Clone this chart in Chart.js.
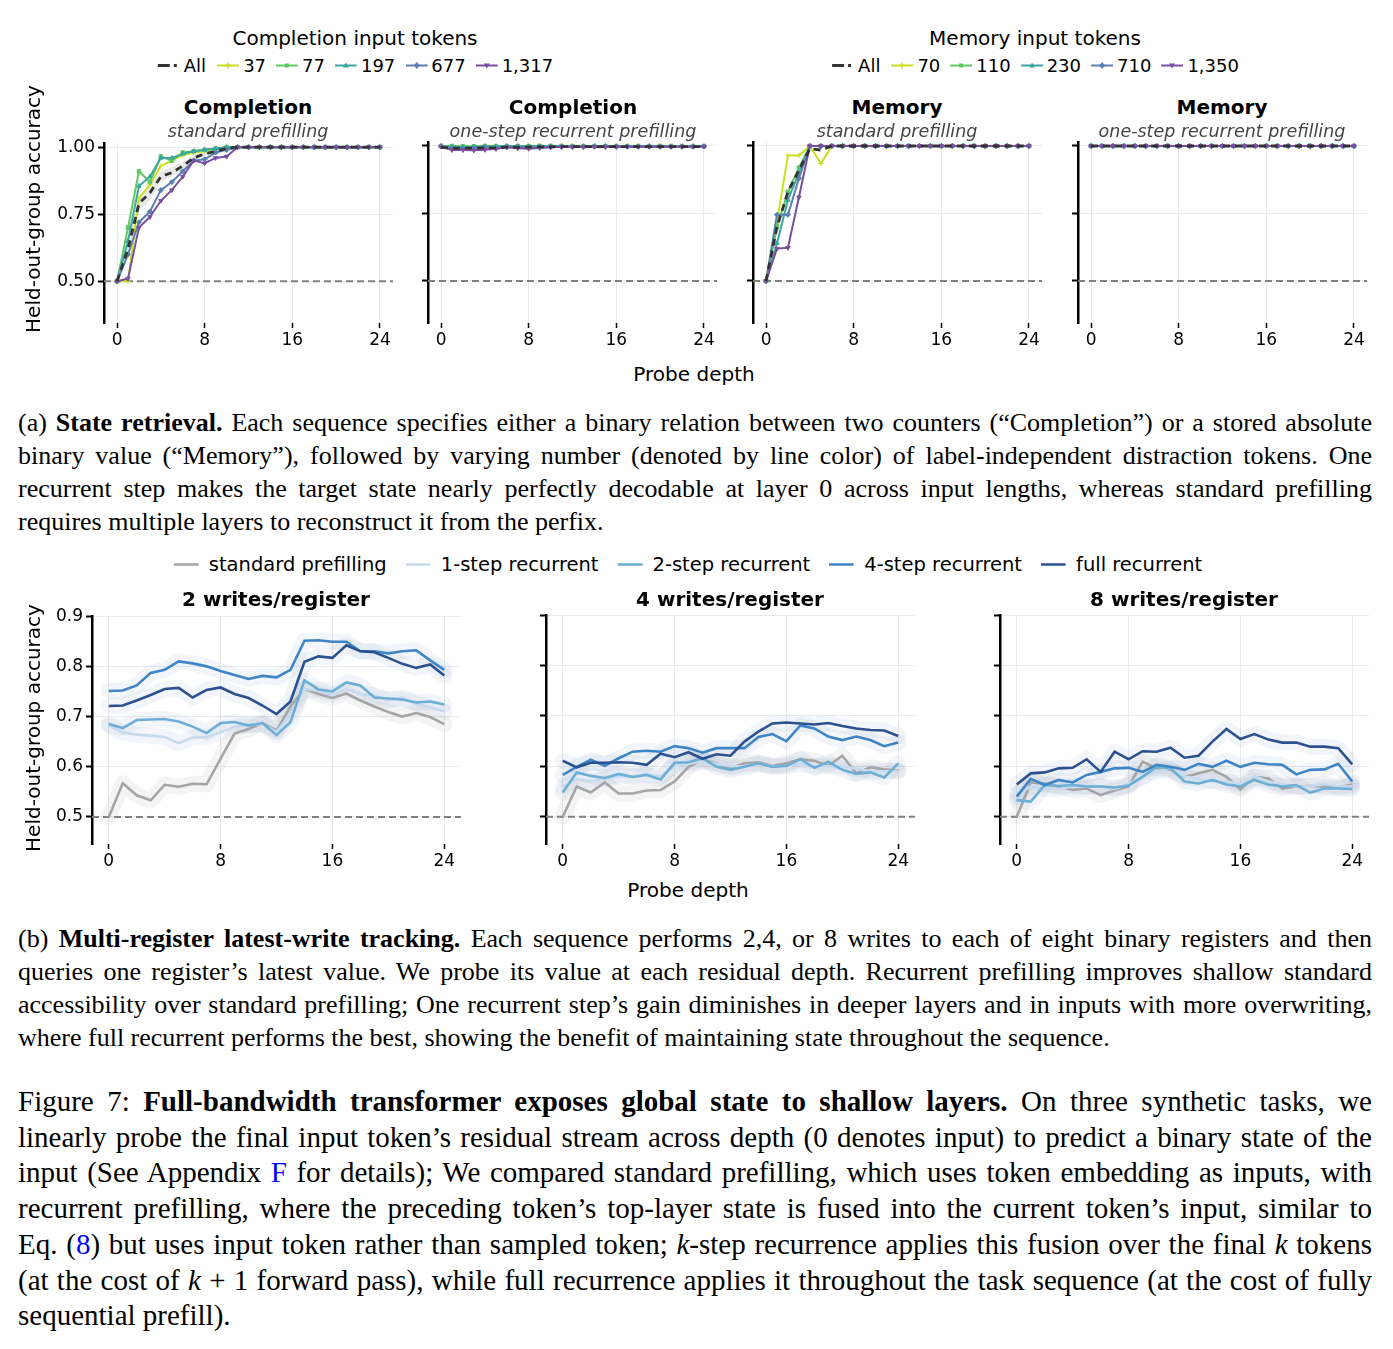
<!DOCTYPE html>
<html>
<head>
<meta charset="utf-8">
<script src="https://cdn.jsdelivr.net/npm/chart.js@4.4.1/dist/chart.umd.min.js"></script>
<style>
  body { margin: 0; background: #fff; width: 1393px; height: 1349px; position: relative; overflow: hidden; font-family: "DejaVu Sans", sans-serif; color: #000; }
  canvas { position: absolute; z-index: 0; }
  .t { position: absolute; white-space: nowrap; transform: translate(-50%, -50%); z-index: 1; }
  .ttl { font-weight: bold; font-size: 20px; }
  .sub { font-style: italic; font-size: 17.5px; color: #444; }
  .lab { font-size: 20px; }
  .leg { position: absolute; display: flex; align-items: center; white-space: nowrap; transform: translate(-50%, -50%); z-index: 1; }
  .leg svg { display: block; }
  .cap { position: absolute; left: 18px; width: 1354px; font-family: "Liberation Serif", serif; z-index: 1; }
  .cap div { text-align: justify; text-align-last: justify; white-space: nowrap; }
  .cap div.last { text-align-last: left; }
  .blue { color: #0000ff; }
</style>
</head>
<body>

<div class="t lab" style="left:355px;top:38px">Completion input tokens</div>
<div class="leg" id="legComp" style="left:355px;top:65px"></div>
<div class="t lab" style="left:1035px;top:38px">Memory input tokens</div>
<div class="leg" id="legMem" style="left:1035px;top:65px"></div>

<div class="t ttl" style="left:248px;top:107px">Completion</div>
<div class="t sub" style="left:248px;top:131px">standard prefilling</div>
<div class="t ttl" style="left:573px;top:107px">Completion</div>
<div class="t sub" style="left:573px;top:131px">one-step recurrent prefilling</div>
<div class="t ttl" style="left:897px;top:107px">Memory</div>
<div class="t sub" style="left:897px;top:131px">standard prefilling</div>
<div class="t ttl" style="left:1222px;top:107px">Memory</div>
<div class="t sub" style="left:1222px;top:131px">one-step recurrent prefilling</div>

<div class="t lab" style="left:33px;top:209px;transform:translate(-50%,-50%) rotate(-90deg)">Held-out-group accuracy</div>
<div class="t lab" style="left:694px;top:374px">Probe depth</div>

<div class="cap" style="top:406px;font-size:26px;line-height:33px">
  <div>(a) <b>State retrieval.</b> Each sequence specifies either a binary relation between two counters (“Completion”) or a stored absolute</div>
  <div>binary value (“Memory”), followed by varying number (denoted by line color) of label-independent distraction tokens. One</div>
  <div>recurrent step makes the target state nearly perfectly decodable at layer 0 across input lengths, whereas standard prefilling</div>
  <div class="last">requires multiple layers to reconstruct it from the perfix.</div>
</div>

<div class="leg" id="legBot" style="left:688px;top:564px"></div>
<div class="t ttl" style="left:276px;top:599px">2 writes/register</div>
<div class="t ttl" style="left:730px;top:599px">4 writes/register</div>
<div class="t ttl" style="left:1184px;top:599px">8 writes/register</div>
<div class="t lab" style="left:33px;top:728px;transform:translate(-50%,-50%) rotate(-90deg)">Held-out-group accuracy</div>
<div class="t lab" style="left:688px;top:890px">Probe depth</div>

<div class="cap" style="top:922px;font-size:26px;line-height:33px">
  <div>(b) <b>Multi-register latest-write tracking.</b> Each sequence performs 2,4, or 8 writes to each of eight binary registers and then</div>
  <div>queries one register’s latest value. We probe its value at each residual depth. Recurrent prefilling improves shallow standard</div>
  <div>accessibility over standard prefilling; One recurrent step’s gain diminishes in deeper layers and in inputs with more overwriting,</div>
  <div class="last">where full recurrent performs the best, showing the benefit of maintaining state throughout the sequence.</div>
</div>

<div class="cap" style="top:1084px;font-size:29px;line-height:35.7px">
  <div>Figure 7: <b>Full-bandwidth transformer exposes global state to shallow layers.</b> On three synthetic tasks, we</div>
  <div>linearly probe the final input token’s residual stream across depth (0 denotes input) to predict a binary state of the</div>
  <div>input (See Appendix <span class="blue">F</span> for details); We compared standard prefilling, which uses token embedding as inputs, with</div>
  <div>recurrent prefilling, where the preceding token’s top-layer state is fused into the current token’s input, similar to</div>
  <div>Eq. (<span class="blue">8</span>) but uses input token rather than sampled token; <i>k</i>-step recurrence applies this fusion over the final <i>k</i> tokens</div>
  <div>(at the cost of <i>k</i> + 1 forward pass), while full recurrence applies it throughout the task sequence (at the cost of fully</div>
  <div class="last">sequential prefill).</div>
</div>

<script>
// probe depths and axis ticks
const DEPTHS = [0, 1, 2, 3, 4, 5, 6, 7, 8, 9, 10, 11, 12, 13, 14, 15, 16, 17, 18, 19, 20, 21, 22, 23, 24];
const X_TICKS = [0, 8, 16, 24];
const Y_TICKS_TOP = [0.5, 0.75, 1.0];
const Y_TICKS_BOT = [0.5, 0.6, 0.7, 0.8, 0.9];
const CHANCE = 0.5;

const COMP_TOKENS = ["37", "77", "197", "677", "1,317"];
const MEM_TOKENS = ["70", "110", "230", "710", "1,350"];
const METHODS = ["standard prefilling", "1-step recurrent", "2-step recurrent", "4-step recurrent", "full recurrent"];

// Completion, standard prefilling
const C_STD_ALL = [0.50, 0.62, 0.79, 0.83, 0.89, 0.905, 0.93, 0.96, 0.975, 0.985, 0.995, 1.0, 1.0, 1.0, 1.0, 1.0, 1.0, 1.0, 1.0, 1.0, 1.0, 1.0, 1.0, 1.0, 1.0];
const C_STD_ALL_LO = [0.50, 0.59, 0.76, 0.80, 0.87, 0.89, 0.915, 0.95, 0.97, 0.98, 0.99, 0.998, 1.0, 1.0, 1.0, 1.0, 1.0, 1.0, 1.0, 1.0, 1.0, 1.0, 1.0, 1.0, 1.0];
const C_STD_ALL_HI = [0.50, 0.65, 0.82, 0.86, 0.91, 0.925, 0.945, 0.97, 0.985, 0.99, 1.0, 1.0, 1.0, 1.0, 1.0, 1.0, 1.0, 1.0, 1.0, 1.0, 1.0, 1.0, 1.0, 1.0, 1.0];
const C_STD_37 = [0.50, 0.50, 0.81, 0.86, 0.93, 0.95, 0.97, 0.98, 0.985, 0.995, 1.0, 1.0, 1.0, 1.0, 1.0, 1.0, 1.0, 1.0, 1.0, 1.0, 1.0, 1.0, 1.0, 1.0, 1.0];
const C_STD_77 = [0.50, 0.70, 0.91, 0.87, 0.965, 0.95, 0.98, 0.985, 0.99, 0.995, 1.0, 1.0, 1.0, 1.0, 1.0, 1.0, 1.0, 1.0, 1.0, 1.0, 1.0, 1.0, 1.0, 1.0, 1.0];
const C_STD_197 = [0.50, 0.65, 0.855, 0.89, 0.96, 0.96, 0.975, 0.985, 0.99, 0.995, 1.0, 1.0, 1.0, 1.0, 1.0, 1.0, 1.0, 1.0, 1.0, 1.0, 1.0, 1.0, 1.0, 1.0, 1.0];
const C_STD_677 = [0.50, 0.60, 0.72, 0.76, 0.84, 0.87, 0.91, 0.95, 0.955, 0.98, 0.99, 1.0, 1.0, 1.0, 1.0, 1.0, 1.0, 1.0, 1.0, 1.0, 1.0, 1.0, 1.0, 1.0, 1.0];
const C_STD_1317 = [0.50, 0.51, 0.70, 0.74, 0.80, 0.84, 0.89, 0.95, 0.94, 0.96, 0.965, 1.0, 1.0, 1.0, 1.0, 1.0, 1.0, 1.0, 1.0, 1.0, 1.0, 1.0, 1.0, 1.0, 1.0];

// Completion, one-step recurrent prefilling
const C_ONE_ALL = [0.995, 0.992, 0.992, 0.992, 0.993, 0.994, 0.996, 0.995, 0.996, 0.997, 0.997, 0.998, 0.998, 0.998, 0.998, 0.998, 0.998, 0.998, 0.998, 0.998, 0.998, 0.998, 0.998, 0.998, 0.998];
const C_ONE_37 = [1.0, 0.998, 0.997, 0.998, 0.999, 1.0, 1.0, 1.0, 1.0, 1.0, 1.0, 1.0, 1.0, 1.0, 1.0, 1.0, 1.0, 1.0, 1.0, 1.0, 1.0, 1.0, 1.0, 1.0, 1.0];
const C_ONE_77 = [1.0, 1.0, 0.999, 0.999, 1.0, 1.0, 1.0, 1.0, 1.0, 1.0, 1.0, 1.0, 1.0, 1.0, 1.0, 1.0, 1.0, 1.0, 1.0, 1.0, 1.0, 1.0, 1.0, 1.0, 1.0];
const C_ONE_197 = [1.0, 0.997, 0.996, 0.997, 0.998, 0.998, 0.999, 0.999, 0.998, 0.999, 0.999, 0.999, 0.998, 0.998, 0.999, 0.999, 0.998, 0.998, 0.998, 0.999, 0.998, 0.998, 0.998, 0.997, 0.998];
const C_ONE_677 = [0.998, 0.99, 0.99, 0.993, 0.995, 0.99, 0.995, 0.997, 0.994, 0.995, 0.996, 0.997, 0.997, 0.997, 0.998, 0.998, 0.998, 0.998, 0.998, 0.998, 0.998, 0.998, 0.998, 0.998, 0.998];
const C_ONE_1317 = [0.998, 0.985, 0.985, 0.984, 0.986, 0.99, 0.995, 0.992, 0.99, 0.993, 0.995, 0.996, 0.996, 0.997, 0.997, 0.996, 0.997, 0.997, 0.997, 0.997, 0.997, 0.997, 0.997, 0.997, 0.998];

// Memory, standard prefilling
const M_STD_ALL = [0.50, 0.70, 0.83, 0.91, 0.99, 0.985, 1.0, 1.0, 1.0, 1.0, 1.0, 1.0, 1.0, 1.0, 1.0, 1.0, 1.0, 1.0, 1.0, 1.0, 1.0, 1.0, 1.0, 1.0, 1.0];
const M_STD_70 = [0.50, 0.72, 0.965, 0.965, 1.0, 0.935, 1.0, 1.0, 1.0, 1.0, 1.0, 1.0, 1.0, 1.0, 1.0, 1.0, 1.0, 1.0, 1.0, 1.0, 1.0, 1.0, 1.0, 1.0, 1.0];
const M_STD_110 = [0.50, 0.70, 0.83, 0.92, 1.0, 1.0, 1.0, 1.0, 1.0, 1.0, 1.0, 1.0, 1.0, 1.0, 1.0, 1.0, 1.0, 1.0, 1.0, 1.0, 1.0, 1.0, 1.0, 1.0, 1.0];
const M_STD_230 = [0.50, 0.64, 0.80, 0.90, 1.0, 1.0, 1.0, 1.0, 1.0, 1.0, 1.0, 1.0, 1.0, 1.0, 1.0, 1.0, 1.0, 1.0, 1.0, 1.0, 1.0, 1.0, 1.0, 1.0, 1.0];
const M_STD_710 = [0.50, 0.745, 0.745, 0.88, 1.0, 1.0, 1.0, 1.0, 1.0, 1.0, 1.0, 1.0, 1.0, 1.0, 1.0, 1.0, 1.0, 1.0, 1.0, 1.0, 1.0, 1.0, 1.0, 1.0, 1.0];
const M_STD_1350 = [0.50, 0.62, 0.623, 0.81, 1.0, 1.0, 1.0, 1.0, 1.0, 1.0, 1.0, 1.0, 1.0, 1.0, 1.0, 1.0, 1.0, 1.0, 1.0, 1.0, 1.0, 1.0, 1.0, 1.0, 1.0];

// Memory, one-step recurrent prefilling
const M_ONE_ALL = [1.0, 1.0, 1.0, 1.0, 1.0, 1.0, 1.0, 1.0, 1.0, 1.0, 1.0, 1.0, 1.0, 1.0, 1.0, 1.0, 1.0, 1.0, 1.0, 1.0, 1.0, 1.0, 1.0, 1.0, 1.0];
const M_ONE_70 = [1.0, 1.0, 1.0, 1.0, 1.0, 1.0, 1.0, 1.0, 1.0, 1.0, 1.0, 1.0, 1.0, 1.0, 1.0, 1.0, 1.0, 1.0, 1.0, 1.0, 1.0, 1.0, 1.0, 1.0, 1.0];
const M_ONE_110 = [1.0, 1.0, 1.0, 1.0, 1.0, 1.0, 1.0, 1.0, 1.0, 1.0, 1.0, 1.0, 1.0, 1.0, 1.0, 1.0, 1.0, 1.0, 1.0, 1.0, 1.0, 1.0, 1.0, 1.0, 1.0];
const M_ONE_230 = [1.0, 1.0, 1.0, 1.0, 1.0, 1.0, 1.0, 1.0, 1.0, 1.0, 1.0, 1.0, 1.0, 1.0, 1.0, 1.0, 1.0, 1.0, 1.0, 1.0, 1.0, 1.0, 1.0, 1.0, 1.0];
const M_ONE_710 = [1.0, 1.0, 1.0, 1.0, 1.0, 1.0, 1.0, 1.0, 1.0, 1.0, 1.0, 1.0, 1.0, 1.0, 1.0, 1.0, 1.0, 1.0, 1.0, 1.0, 1.0, 1.0, 1.0, 1.0, 1.0];
const M_ONE_1350 = [1.0, 1.0, 1.0, 1.0, 1.0, 1.0, 1.0, 1.0, 1.0, 1.0, 1.0, 1.0, 1.0, 1.0, 1.0, 1.0, 1.0, 1.0, 1.0, 1.0, 1.0, 1.0, 1.0, 1.0, 1.0];

// Multi-register tracking: 2 writes/register
const W2_STD = [0.500, 0.567, 0.543, 0.533, 0.564, 0.560, 0.566, 0.565, 0.616, 0.666, 0.675, 0.687, 0.672, 0.720, 0.755, 0.745, 0.737, 0.746, 0.732, 0.720, 0.709, 0.700, 0.707, 0.699, 0.685];
const W2_1 = [0.682, 0.668, 0.664, 0.662, 0.659, 0.647, 0.658, 0.659, 0.669, 0.679, 0.684, 0.685, 0.669, 0.705, 0.755, 0.752, 0.743, 0.755, 0.745, 0.742, 0.732, 0.738, 0.725, 0.719, 0.710];
const W2_2 = [0.685, 0.677, 0.693, 0.694, 0.695, 0.690, 0.680, 0.667, 0.687, 0.689, 0.682, 0.687, 0.663, 0.689, 0.772, 0.754, 0.750, 0.768, 0.762, 0.738, 0.736, 0.734, 0.728, 0.730, 0.724];
const W2_4 = [0.751, 0.752, 0.762, 0.787, 0.793, 0.810, 0.806, 0.800, 0.791, 0.783, 0.775, 0.781, 0.778, 0.793, 0.851, 0.852, 0.849, 0.849, 0.830, 0.830, 0.826, 0.830, 0.832, 0.812, 0.793];
const W2_FULL = [0.721, 0.722, 0.732, 0.743, 0.755, 0.757, 0.738, 0.753, 0.758, 0.745, 0.737, 0.722, 0.705, 0.730, 0.809, 0.820, 0.817, 0.842, 0.830, 0.828, 0.817, 0.805, 0.797, 0.804, 0.782];

// 4 writes/register
const W4_STD = [0.500, 0.560, 0.548, 0.568, 0.546, 0.546, 0.552, 0.553, 0.570, 0.599, 0.613, 0.606, 0.596, 0.606, 0.608, 0.601, 0.606, 0.614, 0.611, 0.601, 0.621, 0.586, 0.598, 0.594, 0.591];
const W4_1 = [0.560, 0.575, 0.570, 0.575, 0.580, 0.580, 0.585, 0.580, 0.600, 0.605, 0.610, 0.605, 0.600, 0.600, 0.605, 0.600, 0.600, 0.605, 0.600, 0.600, 0.600, 0.595, 0.590, 0.590, 0.590];
const W4_2 = [0.548, 0.588, 0.581, 0.577, 0.585, 0.579, 0.583, 0.574, 0.607, 0.608, 0.616, 0.599, 0.593, 0.599, 0.606, 0.599, 0.601, 0.614, 0.597, 0.609, 0.593, 0.585, 0.588, 0.578, 0.606];
const W4_4 = [0.583, 0.599, 0.613, 0.601, 0.616, 0.629, 0.631, 0.629, 0.640, 0.636, 0.627, 0.636, 0.636, 0.636, 0.658, 0.664, 0.650, 0.681, 0.675, 0.659, 0.652, 0.659, 0.652, 0.640, 0.647];
const W4_FULL = [0.611, 0.598, 0.607, 0.607, 0.608, 0.607, 0.603, 0.625, 0.618, 0.628, 0.615, 0.624, 0.621, 0.649, 0.669, 0.685, 0.687, 0.685, 0.683, 0.686, 0.680, 0.675, 0.672, 0.671, 0.660];

// 8 writes/register
const W8_STD = [0.500, 0.568, 0.566, 0.560, 0.553, 0.556, 0.543, 0.552, 0.560, 0.609, 0.596, 0.593, 0.579, 0.586, 0.593, 0.579, 0.554, 0.579, 0.576, 0.556, 0.560, 0.561, 0.560, 0.558, 0.564];
const W8_1 = [0.545, 0.560, 0.555, 0.555, 0.560, 0.560, 0.560, 0.555, 0.565, 0.580, 0.590, 0.595, 0.580, 0.575, 0.570, 0.570, 0.565, 0.580, 0.570, 0.565, 0.560, 0.560, 0.565, 0.560, 0.560];
const W8_2 = [0.533, 0.530, 0.563, 0.561, 0.563, 0.560, 0.560, 0.558, 0.562, 0.579, 0.599, 0.596, 0.570, 0.566, 0.573, 0.564, 0.560, 0.573, 0.564, 0.560, 0.563, 0.548, 0.556, 0.556, 0.555];
const W8_4 = [0.540, 0.575, 0.563, 0.573, 0.568, 0.583, 0.589, 0.596, 0.597, 0.589, 0.603, 0.599, 0.593, 0.605, 0.599, 0.611, 0.599, 0.607, 0.604, 0.603, 0.584, 0.593, 0.594, 0.605, 0.570];
const W8_FULL = [0.564, 0.586, 0.588, 0.596, 0.597, 0.614, 0.589, 0.629, 0.614, 0.630, 0.629, 0.637, 0.617, 0.621, 0.649, 0.674, 0.654, 0.664, 0.653, 0.647, 0.647, 0.639, 0.639, 0.636, 0.604];

const TOP_COLORS = ["#c8e020", "#5ec962", "#3aa6a0", "#5a7fb0", "#7b4fa0"];
const TOP_MARKERS = ["cross", "rect", "triangle", "rectRot", "triangleDown"];
const BOT_COLORS = ["#a5a5a5", "#c6dbef", "#6baed6", "#3d85c6", "#2b5190"];

const pts = (vals) => DEPTHS.map((d, i) => ({ x: d, y: vals[i] }));

function rgba(hex, a) {
  const n = parseInt(hex.slice(1), 16);
  return `rgba(${(n >> 16) & 255}, ${(n >> 8) & 255}, ${n & 255}, ${a})`;
}

// dashed chance level line
const chanceLine = {
  id: "chanceLine",
  beforeDatasetsDraw(chart) {
    const { ctx, chartArea, scales } = chart;
    const y = scales.y.getPixelForValue(CHANCE);
    ctx.save();
    ctx.strokeStyle = "#808080";
    ctx.lineWidth = 2;
    ctx.setLineDash([7, 4]);
    ctx.beginPath();
    ctx.moveTo(chartArea.left, y);
    ctx.lineTo(chartArea.right, y);
    ctx.stroke();
    ctx.restore();
  },
};

function makeChart(left, top, w, h, datasets, cfg) {
  const canvas = document.createElement("canvas");
  canvas.width = w;
  canvas.height = h;
  canvas.style.left = left + "px";
  canvas.style.top = top + "px";
  document.body.appendChild(canvas);
  return new Chart(canvas, {
    type: "line",
    data: { datasets },
    options: {
      responsive: false,
      animation: false,
      devicePixelRatio: 1,
      layout: { padding: { top: 12, right: 10, left: 0, bottom: 0 } },
      plugins: { legend: { display: false }, tooltip: { enabled: false } },
      scales: {
        x: {
          type: "linear",
          min: cfg.xMin,
          max: cfg.xMax,
          afterFit: (s) => { s.height = 30; },
          afterBuildTicks: (a) => { a.ticks = X_TICKS.map((v) => ({ value: v })); },
          grid: { color: "#ebebeb", lineWidth: 1, tickColor: "#000", tickLength: 5, tickWidth: 1.5 },
          border: { display: false },
          ticks: { autoSkip: false, maxRotation: 0, padding: 2, color: "#000", font: { family: "DejaVu Sans", size: 17 } },
        },
        y: {
          min: cfg.yMin,
          max: cfg.yMax,
          afterFit: (s) => { s.width = 62; },
          afterBuildTicks: (a) => { a.ticks = cfg.yTicks.map((v) => ({ value: v })); },
          grid: { color: "#ebebeb", lineWidth: 1, tickColor: "#000", tickLength: 6, tickWidth: 2 },
          border: { display: true, color: "#000", width: 2.5 },
          ticks: {
            display: cfg.showY,
            padding: 3,
            color: "#000",
            font: { family: "DejaVu Sans", size: 17 },
            callback: (v) => v.toFixed(cfg.digits),
          },
        },
      },
    },
    plugins: [chanceLine],
  });
}

function topDatasets(all, series, band) {
  const ds = [{
    data: pts(all), borderColor: "#333", borderDash: [7, 5], borderWidth: 2.8, pointRadius: 0,
  }];
  for (let i = series.length - 1; i >= 0; i--) {
    const down = TOP_MARKERS[i] === "triangleDown";
    ds.push({
      data: pts(series[i]),
      borderColor: TOP_COLORS[i],
      backgroundColor: TOP_COLORS[i],
      borderWidth: 2,
      pointRadius: 2.5,
      pointBorderWidth: 1,
      pointStyle: down ? "triangle" : TOP_MARKERS[i],
      rotation: down ? 180 : 0,
    });
  }
  if (band) {
    ds.push({ data: pts(band[1]), borderWidth: 0, pointRadius: 0, fill: false });
    ds.push({ data: pts(band[0]), borderWidth: 0, pointRadius: 0, fill: "-1", backgroundColor: "rgba(0,0,0,0.09)" });
  }
  return ds;
}

function botDatasets(series) {
  const ds = [];
  for (let i = series.length - 1; i >= 0; i--) {
    ds.push({ data: pts(series[i]), borderColor: BOT_COLORS[i], borderWidth: 2.6, pointRadius: 0 });
  }
  for (let i = series.length - 1; i >= 0; i--) {
    ds.push({
      data: pts(series[i]), borderColor: rgba(BOT_COLORS[i] === "#a5a5a5" ? "#8a8a8a" : "#6e8fbf", 0.09),
      borderWidth: 16, borderJoinStyle: "round", borderCapStyle: "round", pointRadius: 0,
    });
  }
  return ds;
}

const TOP_CFG = { xMin: -1.19, xMax: 25.19, yMin: 0.3444, yMax: 1.0148, yTicks: Y_TICKS_TOP, digits: 2 };
const BOT_CFG = { xMin: -1.2, xMax: 25.2, yMin: 0.446, yMax: 0.9, yTicks: Y_TICKS_BOT, digits: 1 };

const TOP_SPINES = [104, 428, 753, 1078];
const topPanels = [
  topDatasets(C_STD_ALL, [C_STD_37, C_STD_77, C_STD_197, C_STD_677, C_STD_1317], [C_STD_ALL_LO, C_STD_ALL_HI]),
  topDatasets(C_ONE_ALL, [C_ONE_37, C_ONE_77, C_ONE_197, C_ONE_677, C_ONE_1317]),
  topDatasets(M_STD_ALL, [M_STD_70, M_STD_110, M_STD_230, M_STD_710, M_STD_1350]),
  topDatasets(M_ONE_ALL, [M_ONE_70, M_ONE_110, M_ONE_230, M_ONE_710, M_ONE_1350]),
];
topPanels.forEach((ds, i) => {
  makeChart(TOP_SPINES[i] - 62, 130, 361, 223, ds, { ...TOP_CFG, showY: i === 0 });
});

const BOT_SPINES = [92, 546, 1000];
const botPanels = [
  botDatasets([W2_STD, W2_1, W2_2, W2_4, W2_FULL]),
  botDatasets([W4_STD, W4_1, W4_2, W4_4, W4_FULL]),
  botDatasets([W8_STD, W8_1, W8_2, W8_4, W8_FULL]),
];
botPanels.forEach((ds, i) => {
  makeChart(BOT_SPINES[i] - 62, 603, 441, 271, ds, { ...BOT_CFG, showY: i === 0 });
});

// legends
function marker(style, color) {
  if (style === "cross") return `<path d="M11 3 V9 M8 6 H14" stroke="${color}" stroke-width="1.5"/>`;
  if (style === "rect") return `<rect x="9" y="4" width="4" height="4" fill="${color}"/>`;
  if (style === "triangle") return `<polygon points="11,3 14,8 8,8" fill="${color}"/>`;
  if (style === "rectRot") return `<polygon points="11,2.5 14,6 11,9.5 8,6" fill="${color}"/>`;
  return `<polygon points="11,9 14,4 8,4" fill="${color}"/>`;
}

function topLegend(id, labels) {
  let html = `<svg width="24" height="12"><line x1="1" y1="6" x2="13" y2="6" stroke="#333" stroke-width="3"/><line x1="17" y1="6" x2="20" y2="6" stroke="#333" stroke-width="3"/></svg>`;
  html += `<span style="font-size:18px;margin:0 11px 0 3px">All</span>`;
  labels.forEach((lab, i) => {
    html += `<svg width="22" height="12"><line x1="0" y1="6" x2="22" y2="6" stroke="${TOP_COLORS[i]}" stroke-width="2"/>${marker(TOP_MARKERS[i], TOP_COLORS[i])}</svg>`;
    html += `<span style="font-size:18px;margin:0 ${i < labels.length - 1 ? 10 : 0}px 0 4px">${lab}</span>`;
  });
  document.getElementById(id).innerHTML = html;
}
topLegend("legComp", COMP_TOKENS);
topLegend("legMem", MEM_TOKENS);

let botHtml = "";
METHODS.forEach((lab, i) => {
  botHtml += `<svg width="25" height="12"><line x1="0" y1="6" x2="25" y2="6" stroke="${BOT_COLORS[i]}" stroke-width="2.6"/></svg>`;
  botHtml += `<span style="font-size:19.5px;margin:0 ${i < METHODS.length - 1 ? 19 : 0}px 0 10px">${lab}</span>`;
});
document.getElementById("legBot").innerHTML = botHtml;
</script>
</body>
</html>
